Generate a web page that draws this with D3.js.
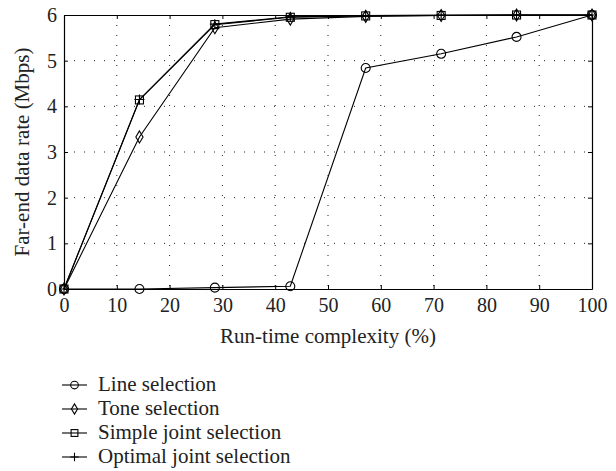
<!DOCTYPE html>
<html>
<head>
<meta charset="utf-8">
<script src="https://cdn.jsdelivr.net/npm/d3@7"></script>
<style>
  body { margin: 0; background: #fff; }
  svg { display: block; font-family: "Liberation Serif", "DejaVu Serif", serif; }
</style>
</head>
<body>
<svg id="chart" width="616" height="471"></svg>
<script>
(() => {
  // run-time complexity (%) for each point
  const complexity = [0, 14.29, 28.57, 42.86, 57.14, 71.43, 85.71, 100];

  const lineSel = [0, 0.0, 0.03, 0.06, 4.84, 5.15, 5.52, 6.0];
  const toneSel = [0, 3.33, 5.72, 5.91, 5.97, 5.99, 6.0, 6.0];
  const simpleJoint = [0, 4.14, 5.79, 5.95, 5.98, 5.99, 6.0, 6.0];
  const optimalJoint = [0, 4.15, 5.80, 5.96, 5.99, 6.0, 6.0, 6.0];

  const xTicks = [0, 10, 20, 30, 40, 50, 60, 70, 80, 90, 100];
  const yTicks = [0, 1, 2, 3, 4, 5, 6];

  const seriesNames = ["Line selection", "Tone selection", "Simple joint selection", "Optimal joint selection"];
  const seriesMarks = ["circle", "diamond", "square", "plus"];

  const svg = d3.select("#chart");
  const margin = { top: 15, right: 24, bottom: 182, left: 64 };
  const width = 616, height = 471;
  const innerWidth = width - margin.left - margin.right;
  const innerHeight = height - margin.top - margin.bottom;

  const g = svg.append("g")
    .attr("transform", `translate(${margin.left},${margin.top})`);

  const x = d3.scaleLinear().domain([0, 100]).range([0, innerWidth]);
  const y = d3.scaleLinear().domain([0, 6]).range([innerHeight, 0]);

  /* ---------- GRID ---------- */
  g.append("g")
    .selectAll("line")
    .data(xTicks.slice(1, -1))
    .join("line")
    .attr("x1", d => x(d)).attr("x2", d => x(d))
    .attr("y1", 0).attr("y2", innerHeight)
    .attr("stroke", "#222")
    .attr("stroke-width", 1)
    .attr("stroke-dasharray", "1,9");

  g.append("g")
    .selectAll("line")
    .data(yTicks.slice(1, -1))
    .join("line")
    .attr("x1", 0).attr("x2", innerWidth)
    .attr("y1", d => y(d)).attr("y2", d => y(d))
    .attr("stroke", "#222")
    .attr("stroke-width", 1)
    .attr("stroke-dasharray", "1,9");

  /* ---------- AXES ---------- */
  const tickLen = 4;
  const styleAxis = sel => {
    sel.select(".domain").attr("stroke", "#000").attr("stroke-width", 1.2);
    sel.selectAll(".tick line").attr("stroke", "#000");
    sel.selectAll("text")
      .attr("fill", "#222")
      .style("font-family", "'Liberation Serif', serif")
      .style("font-size", "20px");
  };

  g.append("g")
    .attr("transform", `translate(0,${innerHeight})`)
    .call(d3.axisBottom(x).tickValues(xTicks).tickSizeInner(-tickLen).tickSizeOuter(0).tickPadding(9))
    .call(styleAxis);

  g.append("g")
    .call(d3.axisTop(x).tickValues(xTicks).tickSizeInner(-tickLen).tickSizeOuter(0).tickFormat(""))
    .call(styleAxis);

  g.append("g")
    .call(d3.axisLeft(y).tickValues(yTicks).tickSizeInner(-tickLen).tickSizeOuter(0)
      .tickPadding(7).tickFormat(d3.format("d")))
    .call(styleAxis);

  g.append("g")
    .attr("transform", `translate(${innerWidth},0)`)
    .call(d3.axisRight(y).tickValues(yTicks).tickSizeInner(-tickLen).tickSizeOuter(0).tickFormat(""))
    .call(styleAxis);

  g.append("text")
    .attr("x", innerWidth / 2)
    .attr("y", innerHeight + 54)
    .attr("text-anchor", "middle")
    .attr("fill", "#222")
    .style("font-size", "21px")
    .text("Run-time complexity (%)");

  g.append("text")
    .attr("transform", "rotate(-90)")
    .attr("x", -innerHeight / 2)
    .attr("y", -35)
    .attr("text-anchor", "middle")
    .attr("fill", "#222")
    .style("font-size", "21px")
    .text("Far-end data rate (Mbps)");

  /* ---------- MARKERS ---------- */
  function drawMark(sel, kind, s = 1) {
    if (kind === "circle") {
      sel.append("circle").attr("r", 4.5 * s);
    } else if (kind === "diamond") {
      sel.append("path").attr("d", `M0,${-6 * s}L${3.6 * s},0L0,${6 * s}L${-3.6 * s},0Z`);
    } else if (kind === "square") {
      sel.append("rect").attr("x", -4 * s).attr("y", -4 * s).attr("width", 8 * s).attr("height", 8 * s);
    } else {
      sel.append("path").attr("d", `M${-5 * s},0H${5 * s}M0,${-5 * s}V${5 * s}`);
    }
    sel.selectAll("*").attr("fill", "none").attr("stroke", "#000").attr("stroke-width", 1.1);
  }

  /* ---------- LINES ---------- */
  const allSeries = [lineSel, toneSel, simpleJoint, optimalJoint];
  const line = d3.line()
    .x((d, i) => x(complexity[i]))
    .y(d => y(d));

  allSeries.forEach((vals, k) => {
    g.append("path")
      .datum(vals)
      .attr("d", line)
      .attr("fill", "none")
      .attr("stroke", "#000")
      .attr("stroke-width", 1.1);

    g.append("g")
      .selectAll("g")
      .data(vals)
      .join("g")
      .attr("transform", (d, i) => `translate(${x(complexity[i])},${y(d)})`)
      .each(function () { drawMark(d3.select(this), seriesMarks[k]); });
  });

  /* ---------- LEGEND ---------- */
  const legend = svg.append("g").attr("transform", "translate(62,385)");
  seriesNames.forEach((name, k) => {
    const row = legend.append("g").attr("transform", `translate(0,${k * 24})`);
    row.append("line")
      .attr("x1", 0).attr("x2", 25)
      .attr("stroke", "#000").attr("stroke-width", 1.1);
    drawMark(row.append("g").attr("transform", "translate(12.5,0)"), seriesMarks[k], 0.85);
    row.append("text")
      .attr("x", 36)
      .attr("y", 6)
      .attr("fill", "#222")
      .style("font-size", "21px")
      .text(name);
  });
})();
</script>
</body>
</html>
